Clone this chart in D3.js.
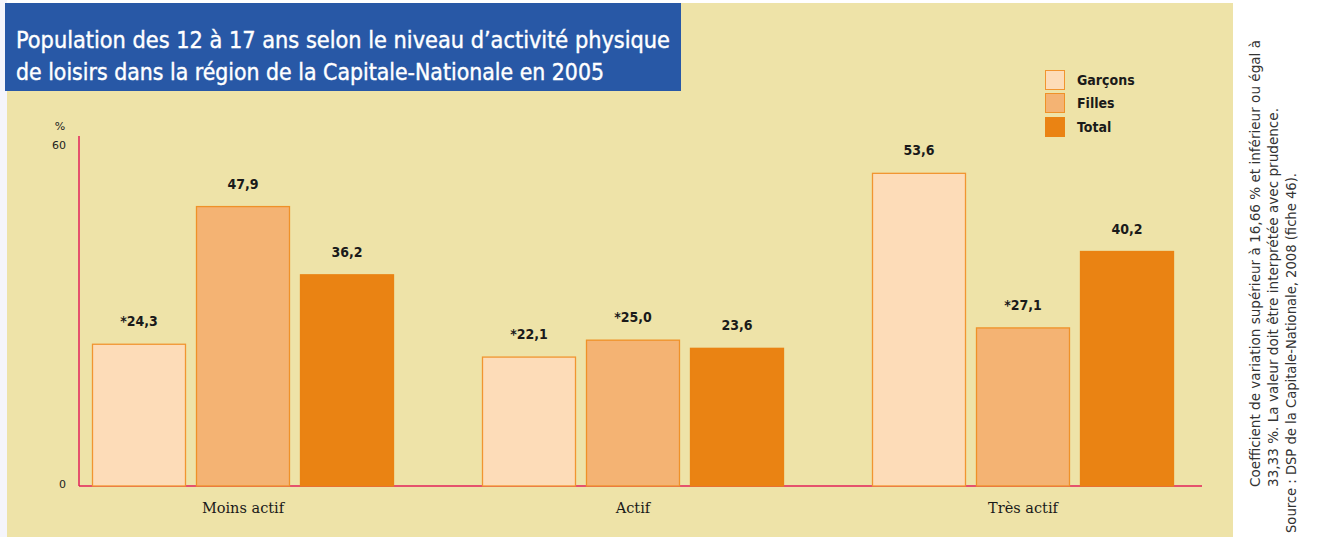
<!DOCTYPE html>
<html>
<head>
<meta charset="utf-8">
<script src="https://cdn.jsdelivr.net/npm/d3@7"></script>
<style>
  body { margin: 0; background: #fff; }
  svg { display: block; }
</style>
</head>
<body>
<script>
// data
var categories = ["Moins actif", "Actif", "Très actif"];
var series = ["Garçons", "Filles", "Total"];
var garcons = [24.3, 22.1, 53.6];
var filles = [47.9, 25.0, 27.1];
var total = [36.2, 23.6, 40.2];
var flagged = [[true, false, false], [true, true, false], [false, true, false]]; // [cat][serie] -> "*"
var yTicks = [0, 60];

var width = 1317, height = 537;
var fills = ["#fddcb8", "#f4b373", "#ea8313"];
var strokes = ["#f19530", "#ef9128", "#ea8313"];

var svg = d3.select("body").append("svg")
    .attr("width", width)
    .attr("height", height);

// page / panel background
svg.append("rect").attr("x", 0).attr("y", 0).attr("width", 7).attr("height", height).attr("fill", "#f5f5fb");
svg.append("rect").attr("x", 7).attr("y", 3).attr("width", 1226).attr("height", height - 3).attr("fill", "#eee3a8");

// title box
svg.append("rect").attr("x", 5).attr("y", 3).attr("width", 676).attr("height", 88).attr("fill", "#2858a6");
var titleLines = ["Population des 12 à 17 ans selon le niveau d\u2019activité physique",
                  "de loisirs dans la région de la Capitale-Nationale en 2005"];
var titleLen = [654, 588];
svg.selectAll(".title")
  .data(titleLines)
  .enter()
  .append("text")
  .attr("class", "title")
  .attr("x", 16)
  .attr("y", function(d, i) { return 48 + i * 32; })
  .attr("textLength", function(d, i) { return titleLen[i]; })
  .attr("lengthAdjust", "spacingAndGlyphs")
  .style("font-family", "'DejaVu Sans Condensed', sans-serif")
  .style("font-size", "23px")
  .style("fill", "#fff")
  .style("stroke", "#fff")
  .style("stroke-width", 0.4)
  .text(function(d) { return d; });

// scales
var yscale = d3.scaleLinear()
    .domain([0, 60])
    .range([486, 136]);

var x0 = d3.scaleBand()
    .domain(categories)
    .range([48, 1218])
    .paddingInner(88 / 390)
    .paddingOuter(44 / 390);

var x1 = d3.scaleBand()
    .domain(series)
    .range([0, x0.bandwidth()])
    .paddingInner(10 / 104);

var rows = categories.map(function(c, i) {
  return {cat: c, values: [garcons[i], filles[i], total[i]], flags: flagged[i]};
});

// axes lines
var axisColor = "#e2225a";
svg.append("line")
  .attr("x1", 79).attr("x2", 79)
  .attr("y1", yscale(60)).attr("y2", yscale(0))
  .attr("stroke", axisColor).attr("stroke-width", 1.5);
svg.append("line")
  .attr("x1", 79).attr("x2", 1202)
  .attr("y1", yscale(0)).attr("y2", yscale(0))
  .attr("stroke", axisColor).attr("stroke-width", 1.5);

// y tick labels
svg.selectAll(".ytick")
  .data(yTicks)
  .enter()
  .append("text")
  .attr("class", "ytick")
  .attr("x", 66)
  .attr("y", function(d) { return yscale(d) + (d === 0 ? 2 : 13); })
  .attr("text-anchor", "end")
  .style("font-family", "'DejaVu Sans', sans-serif")
  .style("font-size", "11px")
  .style("fill", "#222")
  .text(function(d) { return d; });
svg.append("text")
  .attr("x", 60).attr("y", 130)
  .attr("text-anchor", "middle")
  .style("font-family", "'DejaVu Sans', sans-serif")
  .style("font-size", "11px")
  .style("fill", "#222")
  .text("%");

// bars
var groups = svg.selectAll(".grp")
  .data(rows)
  .enter()
  .append("g")
  .attr("class", "grp")
  .attr("transform", function(d) { return "translate(" + x0(d.cat) + ",0)"; });

groups.selectAll("rect")
  .data(function(d) { return d.values.map(function(v, j) { return {s: series[j], v: v, j: j, f: d.flags[j]}; }); })
  .enter()
  .append("rect")
  .attr("x", function(d) { return x1(d.s) + 0.5; })
  .attr("y", function(d) { return yscale(d.v); })
  .attr("width", x1.bandwidth() - 1)
  .attr("height", function(d) { return yscale(0) - yscale(d.v); })
  .style("fill", function(d) { return fills[d.j]; })
  .style("stroke", function(d) { return strokes[d.j]; })
  .style("stroke-width", 1.3);

groups.selectAll(".val")
  .data(function(d) { return d.values.map(function(v, j) { return {s: series[j], v: v, j: j, f: d.flags[j]}; }); })
  .enter()
  .append("text")
  .attr("class", "val")
  .attr("x", function(d) { return x1(d.s) + x1.bandwidth() / 2; })
  .attr("y", function(d) { return yscale(d.v) - 18; })
  .attr("text-anchor", "middle")
  .style("font-family", "'DejaVu Sans Condensed', sans-serif")
  .style("font-weight", "bold")
  .style("font-size", "14px")
  .style("fill", "#1a1a1a")
  .text(function(d) { return (d.f ? "*" : "") + d.v.toFixed(1).replace(".", ","); });

// category labels
svg.selectAll(".cat")
  .data(categories)
  .enter()
  .append("text")
  .attr("class", "cat")
  .attr("x", function(d) { return x0(d) + x0.bandwidth() / 2; })
  .attr("y", 513)
  .attr("text-anchor", "middle")
  .style("font-family", "'DejaVu Serif', serif")
  .style("font-size", "14.5px")
  .style("fill", "#1a1a1a")
  .text(function(d) { return d; });

// legend
var legend = svg.selectAll(".leg")
  .data(series)
  .enter()
  .append("g")
  .attr("class", "leg")
  .attr("transform", function(d, i) { return "translate(1045," + [70, 93, 117][i] + ")"; });
legend.append("rect")
  .attr("x", 0.5).attr("y", 0.5)
  .attr("width", 19).attr("height", 19)
  .style("fill", function(d, i) { return fills[i]; })
  .style("stroke", function(d, i) { return strokes[i]; });
legend.append("text")
  .attr("x", 32).attr("y", 15)
  .style("font-family", "'DejaVu Sans Condensed', sans-serif")
  .style("font-weight", "bold")
  .style("font-size", "14px")
  .style("fill", "#1a1a1a")
  .text(function(d) { return d; });

// side note (rotated)
var notes = [
  {t: "Coefficient de variation supérieur à 16,66 % et inférieur ou égal à", x: 1260, y: 487, len: 447},
  {t: "33,33 %. La valeur doit être interprétée avec prudence.", x: 1278, y: 487, len: 379},
  {t: "Source : DSP de la Capitale-Nationale, 2008 (fiche 46).", x: 1296, y: 533, len: 360}
];
svg.selectAll(".note")
  .data(notes)
  .enter()
  .append("text")
  .attr("class", "note")
  .attr("transform", function(d) { return "translate(" + d.x + "," + d.y + ") rotate(-90)"; })
  .attr("textLength", function(d) { return d.len; })
  .attr("lengthAdjust", "spacingAndGlyphs")
  .style("font-family", "'DejaVu Sans Condensed', sans-serif")
  .style("font-size", "14px")
  .style("fill", "#333")
  .text(function(d) { return d.t; });
</script>
</body>
</html>
